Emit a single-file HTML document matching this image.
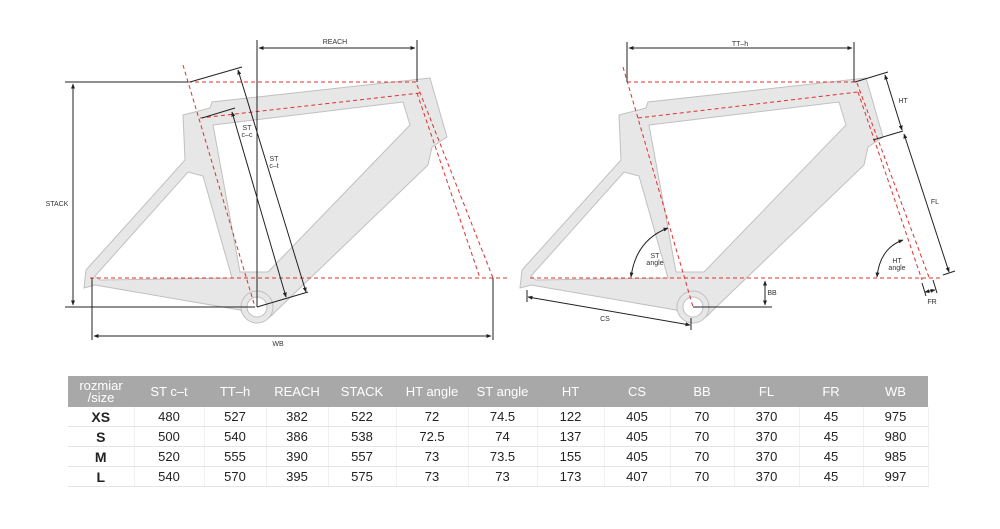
<!DOCTYPE html>
<html><head><meta charset="utf-8"><style>
body{margin:0;background:#fff;width:1000px;height:529px;overflow:hidden;font-family:"Liberation Sans",sans-serif}
svg{position:absolute;left:0;top:0}
table{position:absolute;left:68px;top:376px;width:860px;table-layout:fixed;border-collapse:collapse;font-family:"Liberation Sans",sans-serif;font-size:13px;color:#222}
th{background:#a8a8a8;color:#fff;font-weight:normal;height:31px;font-size:13px;line-height:12px;padding:0}
td{text-align:center;height:19px;border-bottom:1px solid #e4e4e4;border-right:1px solid #f0f0f0;padding:0}
td:first-child{font-weight:bold;font-size:14px}
</style></head><body>
<svg width="1000" height="370" viewBox="0 0 1000 370">
<defs>
<marker id="a" viewBox="0 0 10 10" refX="9" refY="5" markerWidth="5" markerHeight="5" orient="auto-start-reverse"><path d="M0,1L10,5L0,9z" fill="#222"/></marker>
<g id="frame">
<path fill-rule="evenodd" fill="#e7e7e7" stroke="#c0c0c0" stroke-width="1" d="M86,270 L185,160 L183,115 L210,108 L212,102 L430,78 L447,137 L432,147 L428,165 L275,312 Q265,324 250,318 L240,310 L95,285 L84,288 L86,270 Z
M213,125 L403,102 L410,125 L268,272 L240,272 Z
M95,276 L188,172 L203,176 L232,278 L100,280 Z"/>
<circle cx="257" cy="307" r="16" fill="#e7e7e7" stroke="#c0c0c0"/>
<circle cx="257" cy="307" r="10" fill="#fff" stroke="#c0c0c0"/>
</g>
</defs>
<use href="#frame"/>
<use href="#frame" transform="translate(436,0)"/>
<g stroke="#e03030" stroke-width="1" stroke-dasharray="4,3" fill="none">
<path d="M188,82H417M200,118L420,93M183,65L255,307M417,85L493,278M417,93L480,278M90,278H507"/>
<path d="M627,82H855M638,118L858,92M623,67L693,307M857,83L930,280M858,92L922,280M530,278H943"/>
</g>
<g stroke="#222" stroke-width="1" fill="none">
<path d="M65,82H188M65,307H255"/>
<path d="M73,84V305" marker-start="url(#a)" marker-end="url(#a)"/>
<path d="M257,40V307M417,40V82"/>
<path d="M259,48H415" marker-start="url(#a)" marker-end="url(#a)"/>
<path d="M190,82L242,67M257,307L308,292M202,118L235,108"/>
<path d="M238,70L306,292" marker-start="url(#a)" marker-end="url(#a)"/>
<path d="M232,112L286,297" marker-start="url(#a)" marker-end="url(#a)"/>
<path d="M92,278V340M493,278V340"/>
<path d="M94,336H491" marker-start="url(#a)" marker-end="url(#a)"/>
<path d="M627,42V82M854,42V82"/>
<path d="M629,48H852" marker-start="url(#a)" marker-end="url(#a)"/>
<path d="M855,82L888,72M873,140L903,131M943,275L955,271"/>
<path d="M885,75L902,130" marker-start="url(#a)" marker-end="url(#a)"/>
<path d="M904,134L949,272" marker-start="url(#a)" marker-end="url(#a)"/>
<path d="M922,283L926,296M933,280L937,293"/>
<path d="M925,292L935,290" marker-start="url(#a)" marker-end="url(#a)"/>
<path d="M877,277Q880,248 903,240" marker-start="url(#a)" marker-end="url(#a)"/>
<path d="M631,277Q636,240 668,228" marker-start="url(#a)" marker-end="url(#a)"/>
<path d="M693,307H772"/>
<path d="M765,281V305" marker-start="url(#a)" marker-end="url(#a)"/>
<path d="M527,290V302M691,318V330"/>
<path d="M528,297L690,325" marker-start="url(#a)" marker-end="url(#a)"/>
</g>
<g font-family="Liberation Sans,sans-serif" font-size="7" fill="#333" text-anchor="middle">
<text x="335" y="44">REACH</text>
<text x="57" y="206">STACK</text>
<text x="247" y="130">ST</text><text x="247" y="137">c–c</text>
<text x="274" y="161">ST</text><text x="274" y="168">c–t</text>
<text x="278" y="346">WB</text>
<text x="740" y="46">TT–h</text>
<text x="903" y="103">HT</text>
<text x="935" y="204">FL</text>
<text x="932" y="304">FR</text>
<text x="897" y="263">HT</text><text x="897" y="270">angle</text>
<text x="655" y="258">ST</text><text x="655" y="265">angle</text>
<text x="772" y="295">BB</text>
<text x="605" y="321">CS</text>
</g>
</svg>
<table>
<colgroup><col style="width:66px"><col style="width:70px"><col style="width:62px"><col style="width:62px"><col style="width:68px"><col style="width:72px"><col style="width:69px"><col style="width:67px"><col style="width:66px"><col style="width:64px"><col style="width:65px"><col style="width:64px"><col style="width:65px"></colgroup>
<tr><th>rozmiar<br>/size</th><th>ST c–t</th><th>TT–h</th><th>REACH</th><th>STACK</th><th>HT angle</th><th>ST angle</th><th>HT</th><th>CS</th><th>BB</th><th>FL</th><th>FR</th><th>WB</th></tr>
<tr><td>XS</td><td>480</td><td>527</td><td>382</td><td>522</td><td>72</td><td>74.5</td><td>122</td><td>405</td><td>70</td><td>370</td><td>45</td><td>975</td></tr>
<tr><td>S</td><td>500</td><td>540</td><td>386</td><td>538</td><td>72.5</td><td>74</td><td>137</td><td>405</td><td>70</td><td>370</td><td>45</td><td>980</td></tr>
<tr><td>M</td><td>520</td><td>555</td><td>390</td><td>557</td><td>73</td><td>73.5</td><td>155</td><td>405</td><td>70</td><td>370</td><td>45</td><td>985</td></tr>
<tr><td>L</td><td>540</td><td>570</td><td>395</td><td>575</td><td>73</td><td>73</td><td>173</td><td>407</td><td>70</td><td>370</td><td>45</td><td>997</td></tr>
</table>
</body></html>
